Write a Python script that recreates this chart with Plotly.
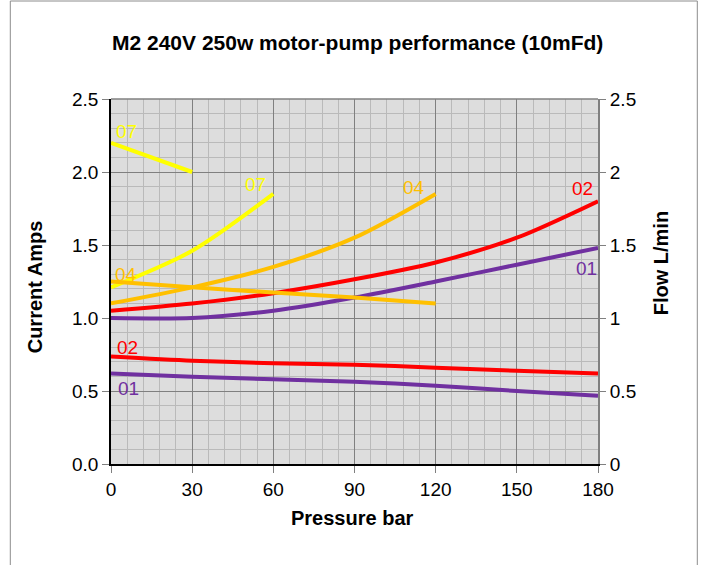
import plotly.graph_objects as go

# ---- data ----
pressure_long = [0, 30, 60, 90, 120, 150, 180]
current_01 = [1.00, 1.00, 1.05, 1.14, 1.25, 1.365, 1.48]
current_02 = [1.05, 1.10, 1.17, 1.265, 1.38, 1.55, 1.80]
flow_01 = [0.62, 0.598, 0.58, 0.564, 0.536, 0.50, 0.468]
flow_02 = [0.737, 0.708, 0.69, 0.68, 0.66, 0.639, 0.62]

pressure_04 = [0, 30, 60, 90, 120]
current_04 = [1.10, 1.21, 1.35, 1.55, 1.85]
flow_04 = [1.25, 1.21, 1.175, 1.14, 1.10]

pressure_07 = [0, 30, 60]
current_07 = [1.21, 1.46, 1.85]
pressure_07_flow = [0, 30]
flow_07 = [2.20, 2.00]

x_ticks = [0, 30, 60, 90, 120, 150, 180]
y_ticks = [0.0, 0.5, 1.0, 1.5, 2.0, 2.5]

labels = ["07", "07", "04", "02", "01", "04", "02", "01"]
label_x = [5.7, 53.4, 111.9, 174.4, 175.7, 5.7, 6.1, 6.4]
label_y = [2.276, 1.916, 1.897, 1.888, 1.340, 1.295, 0.797, 0.519]

PURPLE = "#7030A0"
RED = "#FF0000"
ORANGE = "#FFC000"
YELLOW = "#FFFF00"
label_colors = [YELLOW, YELLOW, ORANGE, RED, PURPLE, ORANGE, RED, PURPLE]

FONT = "Arial, Liberation Sans, sans-serif"

fig = go.Figure()

def add(x, y, color, axis):
    fig.add_trace(go.Scatter(x=x, y=y, mode="lines", yaxis=axis,
                             line=dict(color=color, width=4, shape="spline", smoothing=0.8),
                             showlegend=False, hoverinfo="skip"))

# current series (primary axis)
add(pressure_long, current_01, PURPLE, "y")
add(pressure_long, current_02, RED, "y")
add(pressure_04, current_04, ORANGE, "y")
add(pressure_07, current_07, YELLOW, "y")
# flow series (secondary axis)
add(pressure_long, flow_01, PURPLE, "y2")
add(pressure_long, flow_02, RED, "y2")
add(pressure_04, flow_04, ORANGE, "y2")
add(pressure_07_flow, flow_07, YELLOW, "y2")

for t, x, y, c in zip(labels, label_x, label_y, label_colors):
    fig.add_annotation(x=x, y=y, xref="x", yref="y", text=t, showarrow=False,
                       xanchor="center", yanchor="middle",
                       font=dict(family=FONT, size=19, color=c))

def paper_text(px, py, text, angle=0, size=20):
    fig.add_annotation(x=(px - 110.7) / 487, y=(464 - py) / 365, xref="paper", yref="paper",
                       text=text, showarrow=False, textangle=angle,
                       xanchor="center", yanchor="middle",
                       font=dict(family=FONT, size=size, color="black"))

paper_text(357, 43, "<b>M2 240V 250w motor-pump performance (10mFd)</b>", size=21)
paper_text(352, 518, "<b>Pressure bar</b>")
paper_text(35, 287, "<b>Current Amps</b>", angle=-90)
paper_text(661, 263, "<b>Flow L/min</b>", angle=-90)

# outer chart frame
fig.add_shape(type="rect", xref="paper", yref="paper",
              x0=(10 - 110.7) / 487, x1=(697 - 110.7) / 487,
              y0=(464 - 600) / 365, y1=(464 - 1) / 365,
              line=dict(color="#8c8c8c", width=1), fillcolor="rgba(0,0,0,0)", layer="below")
# top edge of plot area
fig.add_shape(type="line", xref="paper", yref="paper", x0=0, x1=1, y0=1, y1=1,
              line=dict(color="#808080", width=1.5))

fig.update_layout(
    width=704, height=565,
    margin=dict(l=111, r=106, t=99, b=101),
    paper_bgcolor="white", plot_bgcolor="#DDDDDD",
    font=dict(family=FONT, size=19, color="black"),
    xaxis=dict(range=[0, 180], tickvals=x_ticks, showgrid=True, gridcolor="#808080", gridwidth=1,
               minor=dict(dtick=6, showgrid=True, gridcolor="#BABABA", gridwidth=1),
               showline=True, linecolor="black", linewidth=1.5,
               ticks="outside", ticklen=7, tickcolor="#808080",
               zeroline=False, tickfont=dict(size=19)),
    yaxis=dict(range=[0, 2.5], tickvals=y_ticks, tickformat=".1f", showgrid=True,
               gridcolor="#808080", gridwidth=1,
               minor=dict(dtick=0.1, showgrid=True, gridcolor="#BABABA", gridwidth=1),
               showline=True, linecolor="black", linewidth=1.5,
               ticks="outside", ticklen=7, tickcolor="#808080",
               zeroline=False, tickfont=dict(size=19)),
    yaxis2=dict(range=[0, 2.5], tickvals=y_ticks, ticktext=["0", "0.5", "1", "1.5", "2", "2.5"],
                overlaying="y", side="right", showgrid=False,
                showline=True, linecolor="#808080", linewidth=2,
                ticks="outside", ticklen=6, tickcolor="#808080",
                zeroline=False, tickfont=dict(size=19)),
)

fig.write_html("out.html", config={"displayModeBar": False},
               post_script="document.body.style.margin='0';")
